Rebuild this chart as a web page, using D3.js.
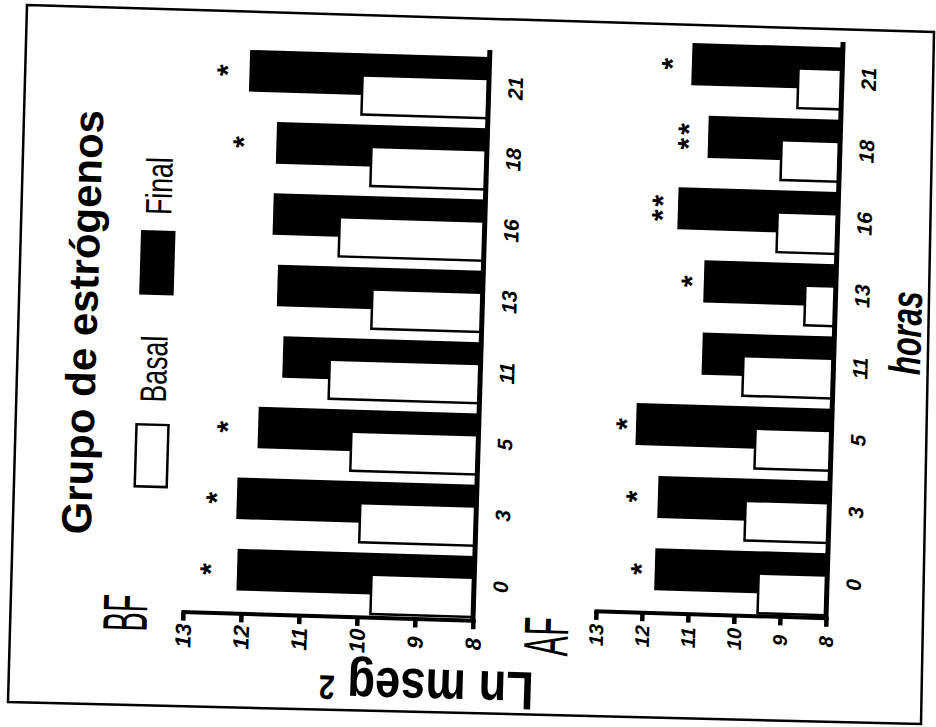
<!DOCTYPE html>
<html>
<head>
<meta charset="utf-8">
<script src="https://cdn.jsdelivr.net/npm/d3@7"></script>
<style>
  body { margin: 0; background: #fff; }
</style>
</head>
<body>
<div id="chart"></div>
<script>
// hours of the day, Ln mseg2 values
const hours = ["0", "3", "5", "11", "13", "16", "18", "21"];
const valueTicks = [8, 9, 10, 11, 12, 13];

const bfBasal = [9.77, 10.0, 10.19, 10.60, 9.90, 10.50, 9.99, 10.18];
const bfFinal = [12.09, 12.13, 11.80, 11.41, 11.54, 11.65, 11.63, 12.13];
const bfStars = ["*", "*", "*", "", "", "", "*", "*"];
const bfStarAt = [12.68, 12.61, 12.46, null, null, null, 12.33, 12.64];

const afBasal = [9.49, 9.82, 9.65, 9.96, 8.66, 9.31, 9.27, 8.95];
const afFinal = [11.75, 11.73, 12.25, 10.86, 10.87, 11.48, 10.87, 11.27];
const afStars = ["*", "*", "*", "", "*", "**", "**", "*"];
const afStarAt = [12.21, 12.36, 12.62, null, 11.30, 11.98, 11.46, 11.86];

const font = "'Liberation Sans', Arial, Helvetica, sans-serif";
const W = 936, H = 727;

const svg = d3.select("#chart").append("svg")
    .attr("width", W)
    .attr("height", H);

svg.append("rect").attr("width", W).attr("height", H).attr("fill", "#fff");

// scanned page frame (slightly skewed)
svg.append("path")
    .attr("d", "M27,5 L934,32 L921,724 L8,702 Z")
    .attr("fill", "none")
    .attr("stroke", "#000")
    .attr("stroke-width", 2.5);

// whole figure is tilted a bit in the scan
const g = svg.append("g").attr("transform", "rotate(1.7,468,363)");

const panels = [
    { name: "BF", basal: bfBasal, final: bfFinal, stars: bfStars, starAt: bfStarAt,
      x8: 480.6, x13: 190.5, top: 56.6, bottom: 616.7, axisY: 620, baseTop: 49.5,
      tickFont: 22, labelX: 154.5, labelY: 623, labelScale: 0.46 },
    { name: "AF", basal: afBasal, final: afFinal, stars: afStars, starAt: afStarAt,
      x8: 833.4, x13: 603.3, top: 36.5, bottom: 604.5, axisY: 607, baseTop: 31,
      tickFont: 20, labelX: 576, labelY: 634, labelScale: 0.48 }
];

panels.forEach(function (p) {
    var x = d3.scaleLinear().domain([8, 13]).range([p.x8, p.x13]);
    var y = d3.scaleBand()
        .domain(hours.slice().reverse())
        .range([p.top, p.bottom])
        .paddingInner(0.143);
    var bw = y.bandwidth();
    var pg = g.append("g");

    // Final (black) bars behind
    pg.selectAll(".final")
        .data(hours)
        .join("rect")
        .attr("class", "final")
        .attr("x", function (h, i) { return x(p.final[i]); })
        .attr("y", function (h) { return y(h); })
        .attr("width", function (h, i) { return x(8) - x(p.final[i]); })
        .attr("height", bw * 0.68)
        .attr("fill", "#000");

    // Basal (white) bars in front
    pg.selectAll(".basal")
        .data(hours)
        .join("rect")
        .attr("class", "basal")
        .attr("x", function (h, i) { return x(p.basal[i]); })
        .attr("y", function (h) { return y(h) + bw * 0.36; })
        .attr("width", function (h, i) { return x(8) - x(p.basal[i]); })
        .attr("height", bw * 0.64)
        .attr("fill", "#fff")
        .attr("stroke", "#000")
        .attr("stroke-width", 2.5);

    // significance stars
    pg.selectAll(".star")
        .data(hours.filter(function (h, i) { return p.stars[i] !== ""; }))
        .join("text")
        .attr("class", "star")
        .attr("transform", function (h) {
            var i = hours.indexOf(h);
            return "translate(" + x(p.starAt[i]) + "," + (y(h) + bw * 0.32) + ") rotate(-90)";
        })
        .attr("dy", "0.6em")
        .attr("text-anchor", "middle")
        .attr("font-family", font)
        .attr("font-weight", "bold")
        .attr("font-size", 30)
        .attr("letter-spacing", 3)
        .text(function (h) { return p.stars[hours.indexOf(h)]; });

    // hour labels
    var ay = d3.axisRight(y).tickSize(0).tickPadding(0);
    pg.append("g")
        .attr("transform", "translate(" + p.x8 + ",0)")
        .call(ay)
        .call(function (a) { a.select(".domain").remove(); })
        .attr("font-family", font)
        .attr("font-size", 21)
        .selectAll("text")
        .attr("x", null)
        .attr("dy", "0.36em")
        .attr("transform", "translate(26.5,0) rotate(-90)")
        .attr("text-anchor", "middle")
        .style("font-style", "italic")
        .style("font-weight", "bold");

    // value axis
    var ax = d3.axisBottom(x)
        .tickValues(valueTicks)
        .tickSize(9)
        .tickSizeOuter(0)
        .tickFormat(d3.format("d"));
    var axg = pg.append("g")
        .attr("transform", "translate(0," + p.axisY + ")")
        .call(ax)
        .attr("font-family", font)
        .attr("font-size", p.tickFont);
    axg.select(".domain").attr("stroke-width", 4).attr("stroke-linecap", "square");
    axg.selectAll(".tick line").attr("stroke-width", 4.5);
    axg.selectAll("text")
        .attr("y", null)
        .attr("dy", "0.36em")
        .attr("transform", "translate(0,24) rotate(-90)")
        .attr("text-anchor", "middle")
        .style("font-style", "italic")
        .style("font-weight", "bold");

    // baseline (value 8)
    pg.append("line")
        .attr("x1", p.x8).attr("x2", p.x8)
        .attr("y1", p.baseTop).attr("y2", p.axisY + 2)
        .attr("stroke", "#000")
        .attr("stroke-width", 5);

    // panel label
    pg.append("text")
        .attr("transform", "translate(" + p.labelX + "," + p.labelY + ") rotate(-90) scale(" + p.labelScale + ",1)")
        .attr("text-anchor", "middle")
        .attr("font-family", font)
        .attr("font-size", 63)
        .text(p.name);
});

// title
g.append("text")
    .attr("transform", "translate(96,333.6) rotate(-90)")
    .attr("text-anchor", "middle")
    .attr("font-family", font)
    .attr("font-weight", "bold")
    .attr("font-size", 42)
    .text("Grupo de estrógenos");

// legend
const legend = [
    { key: "Basal", fill: "#fff", boxY: 434, textY: 378.3 },
    { key: "Final", fill: "#000", boxY: 241, textY: 195.3 }
];
legend.forEach(function (l) {
    g.append("rect")
        .attr("x", 138.5).attr("y", l.boxY)
        .attr("width", 32).attr("height", 62)
        .attr("fill", l.fill)
        .attr("stroke", "#000")
        .attr("stroke-width", 2.5);
    g.append("text")
        .attr("transform", "translate(167," + l.textY + ") rotate(-90) scale(0.72,1)")
        .attr("text-anchor", "middle")
        .attr("font-family", font)
        .attr("font-size", 37)
        .text(l.key);
});

// axis titles
const yTitle = g.append("text")
    .attr("transform", "translate(436,670.5) rotate(180) scale(0.84,1)")
    .attr("text-anchor", "middle")
    .attr("font-family", font)
    .attr("font-weight", "bold")
    .attr("font-size", 54)
    .text("Ln mseg ");
yTitle.append("tspan").attr("dy", -9).attr("font-size", 34).text("2");

g.append("text")
    .attr("transform", "translate(920,320) rotate(-90) scale(0.7,1)")
    .attr("text-anchor", "middle")
    .attr("font-family", font)
    .attr("font-weight", "bold")
    .attr("font-style", "italic")
    .attr("font-size", 44)
    .text("horas");
</script>
</body>
</html>
